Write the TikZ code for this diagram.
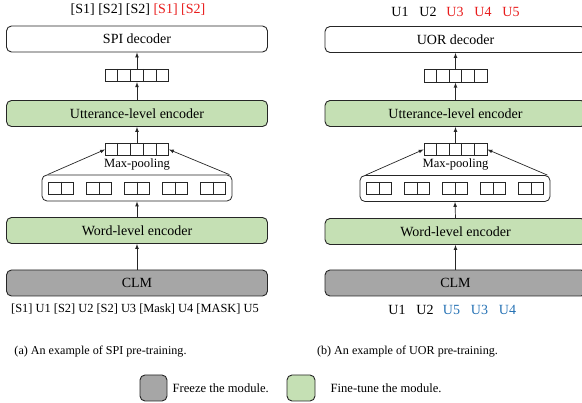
\documentclass[tikz,border=0pt]{standalone}
\usepackage{fontspec}
\setmainfont{Liberation Serif}
\usetikzlibrary{arrows,shapes,positioning,calc}

\definecolor{tunegreen}{RGB}{197,224,180}
\definecolor{freezegray}{RGB}{166,166,166}
\definecolor{tokred}{RGB}{232,28,28}
\definecolor{tokblue}{RGB}{36,113,180}

\tikzset{
    module/.style={draw=black!85, line width=0.9pt, rounded corners=5pt,
                   minimum width=261pt, minimum height=26pt, inner sep=0pt,
                   font=\fontsize{14}{16}\selectfont},
    frozen/.style={module, fill=freezegray},
    tuned/.style={module, fill=tunegreen},
    vecbox/.style={draw=black!85, line width=0.8pt, minimum width=63pt,
                   minimum height=12.5pt, inner sep=0pt},
    pairbox/.style={draw=black!85, line width=0.8pt, minimum width=25pt,
                    minimum height=12pt, inner sep=0pt},
    pooled/.style={draw=black!85, line width=0.8pt, rounded corners=5pt,
                   minimum width=190pt, minimum height=26pt, inner sep=0pt},
    token/.style={font=\fontsize{14}{16}\selectfont, inner sep=0pt},
    smalltext/.style={font=\fontsize{12.6}{14}\selectfont, inner sep=0pt},
    captext/.style={font=\fontsize{12.1}{14}\selectfont, inner sep=0pt},
    cellline/.style={draw=black!85, line width=0.8pt},
    flow/.style={-latex, line width=0.7pt, draw=black!85}
}

% inner walls of a row of cells
\newcommand{\celldividers}[2]{%
    \pgfmathtruncatemacro{\lastdiv}{#2-1}%
    \foreach \k in {1,...,\lastdiv}
        \draw[cellline] ($(#1.north west)!\k/#2!(#1.north east)$) -- ($(#1.south west)!\k/#2!(#1.south east)$);}

\begin{document}
\begin{tikzpicture}[x=1pt, y=-1pt]
    \clip (0,0) rectangle (582,403);

    % (a) SPI
    \node [token] (spiout) at (138,10) {[S1] [S2] [S2] \textcolor{tokred}{[S1] [S2]}};
    \node [module, fill=white] (spidec) at (137,39) {SPI decoder};
    \node [vecbox] (spivec) at (137,75.5) {};
    \node [tuned] (spiutt) at (137,113.5) {Utterance-level encoder};
    \node [vecbox] (spipool) at (137,149.5) {};
    \node [smalltext] (spimp) at (137,164) {Max-pooling};
    \node [pooled] (spiwords) at (137,188) {};
    \foreach \dx [count=\n] in {-76,-38,0,38,76} {
        \node [pairbox] (spiw\n) at ([xshift=\dx pt]spiwords.center) {};
        \celldividers{spiw\n}{2}
    }
    \celldividers{spivec}{5}
    \celldividers{spipool}{5}
    \node [tuned] (spiword) at (137,230.5) {Word-level encoder};
    \node [frozen] (spiclm) at (137,283) {CLM};
    \node [token, font=\fontsize{12.4}{14}\selectfont] (spiin) at (135,309) {[S1] U1 [S2] U2 [S2] U3 [Mask] U4 [MASK] U5};

    \draw [flow] (spiclm.north) -- (spiword.south);
    \draw [flow] (spiword.north) -- (spiwords.south);
    \draw [flow] ([xshift=6pt]spiwords.north west) -- (spipool.west);
    \draw [flow] ([xshift=-3pt]spiwords.north east) -- (spipool.east);
    \draw [flow] (spipool.north) -- (spiutt.south);
    \draw [flow] (spiutt.north) -- (spivec.south);
    \draw [flow] (spivec.north) -- (spidec.south);

    % (b) UOR
    \foreach \x/\t/\c in {400/U1/black, 428/U2/black, 455/U3/tokred, 483/U4/tokred, 511/U5/tokred}
        \node [token, text=\c] (uorout\t) at (\x,12) {\t};
    \node [module, fill=white] (uordec) at (455.5,39.5) {UOR decoder};
    \node [vecbox] (uorvec) at (455.5,76) {};
    \node [tuned] (uorutt) at (455.5,113.5) {Utterance-level encoder};
    \node [vecbox] (uorpool) at (455.5,149.5) {};
    \node [smalltext] (uormp) at (455.5,164) {Max-pooling};
    \node [pooled] (uorwords) at (455,188.5) {};
    \foreach \dx [count=\n] in {-76,-38,0,38,76} {
        \node [pairbox] (uorw\n) at ([xshift=\dx pt]uorwords.center) {};
        \celldividers{uorw\n}{2}
    }
    \celldividers{uorvec}{5}
    \celldividers{uorpool}{5}
    \node [tuned] (uorword) at (455.5,231.5) {Word-level encoder};
    \node [frozen] (uorclm) at (455.5,283) {CLM};
    \foreach \x/\t/\c in {397/U1/black, 425/U2/black, 451.5/U5/tokblue, 479.5/U3/tokblue, 507.5/U4/tokblue}
        \node [token, text=\c] (uorin\t) at (\x,310) {\t};

    \draw [flow] (uorclm.north) -- (uorword.south);
    \draw [flow] (uorword.north) -- (uorwords.south);
    \draw [flow] ([xshift=6pt]uorwords.north west) -- (uorpool.west);
    \draw [flow] ([xshift=-3pt]uorwords.north east) -- (uorpool.east);
    \draw [flow] (uorpool.north) -- (uorutt.south);
    \draw [flow] (uorutt.north) -- (uorvec.south);
    \draw [flow] (uorvec.north) -- (uordec.south);

    % captions and legend
    \node [captext] (capa) at (100.5,352) {(a) An example of SPI pre-training.};
    \node [captext] (capb) at (407.5,352) {(b) An example of UOR pre-training.};
    \node [frozen, minimum width=27pt, minimum height=26pt] (keyfrozen) at (153.5,388) {};
    \node [smalltext, right=5pt of keyfrozen] (keyfrozentext) {Freeze the module.};
    \node [tuned, minimum width=28pt, minimum height=26pt] (keytuned) at (301,388) {};
    \node [smalltext, right=15pt of keytuned] (keytunedtext) {Fine-tune the module.};
\end{tikzpicture}
\end{document}
